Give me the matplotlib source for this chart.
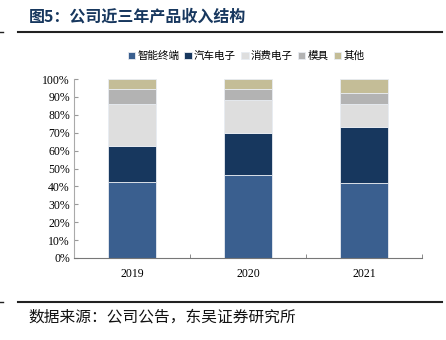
import matplotlib
matplotlib.use('Agg')
import matplotlib.pyplot as plt
import numpy as np

plt.rcParams['font.family'] = ['Noto Sans CJK SC', 'DejaVu Sans']

# %% data
years = ['2019', '2020', '2021']
series = ['智能终端', '汽车电子', '消费电子', '模具', '其他']
smart = [42.6, 46.1, 41.9]
auto = [20.0, 23.6, 31.5]
consumer = [23.4, 18.6, 12.6]
mold = [8.2, 5.9, 6.3]
other = [5.8, 5.8, 7.7]
colors = ['#3A5F8F', '#17375E', '#DEDEDE', '#B3B3B3', '#C4BD97']

# %% plot
fig = plt.figure(figsize=(4.46, 3.40), dpi=100)
ax = fig.add_axes([74 / 446, 1 - 258 / 340, 348 / 446, 179 / 340])

x = np.arange(len(years))
bottom = np.zeros(len(years))
for name, vals, c in zip(series, [smart, auto, consumer, mold, other], colors):
    ax.bar(x, vals, 0.41, bottom=bottom, color=c, label=name,
           edgecolor='#E8ECF2', linewidth=0.6)
    bottom += np.array(vals)

ax.set_xlim(-0.5, 2.5)
ax.set_ylim(0, 100)
ax.set_yticks(np.arange(0, 101, 10))
ax.set_yticklabels([f'{v}%' for v in range(0, 101, 10)],
                   family='Liberation Serif', fontsize=8.5)
ax.set_xticks(x)
ax.set_xticklabels(years, family='Liberation Serif', fontsize=8.5)
ax.set_xticks([0.5, 1.5, 2.5], minor=True)
ax.tick_params(axis='x', which='major', length=0, pad=7)
ax.tick_params(axis='x', which='minor', direction='in', length=3, color='#777777')
ax.tick_params(axis='y', direction='in', length=3, color='#999999', pad=3)
for s in ['top', 'right']:
    ax.spines[s].set_visible(False)
ax.spines['left'].set_color('#AAAAAA')
ax.spines['bottom'].set_color('#777777')
ax.spines['left'].set_linewidth(0.8)
ax.spines['bottom'].set_linewidth(0.8)

ax.legend(loc='center', bbox_to_anchor=(246 / 446, 1 - 56 / 340),
          bbox_transform=fig.transFigure, ncol=5, frameon=False,
          fontsize=7.6, handlelength=0.7, handleheight=0.7,
          handletextpad=0.2, columnspacing=0.5)

# title and source
fig.text(29 / 446, 1 - 17 / 340, '图5：公司近三年产品收入结构', fontsize=11.5,
         fontweight='bold', color='#17375E', va='center')
fig.add_artist(plt.Line2D([18 / 446, 442 / 446], [1 - 32 / 340] * 2,
                          color='#222222', linewidth=1.5))
fig.add_artist(plt.Line2D([0, 3 / 446], [1 - 32 / 340] * 2,
                          color='#222222', linewidth=1))
fig.add_artist(plt.Line2D([18 / 446, 442 / 446], [1 - 302 / 340] * 2,
                          color='#222222', linewidth=1.5))
fig.add_artist(plt.Line2D([0, 3 / 446], [1 - 302 / 340] * 2,
                          color='#222222', linewidth=1))
fig.text(28 / 446, 1 - 317 / 340, '数据来源：公司公告，东吴证券研究所',
         fontsize=11.3, color='#111111', va='center')

fig.savefig('out.png', dpi=100)
